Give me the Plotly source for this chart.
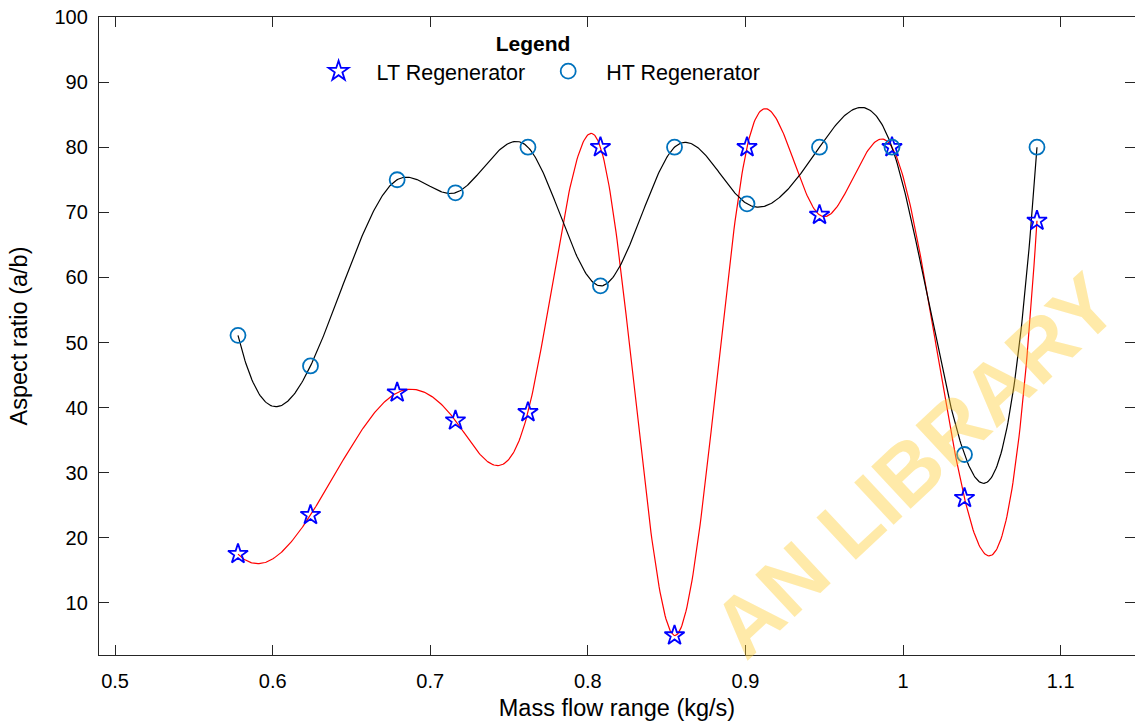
import numpy as np
import plotly.graph_objects as go

# ---- data ----
mass_flow = [0.578, 0.624, 0.679, 0.716, 0.762, 0.808, 0.855, 0.901, 0.947, 0.993, 1.039, 1.085]
lt_regen = [17.5, 23.5, 42.3, 38.0, 39.3, 80.0, 5.0, 80.0, 69.6, 80.0, 26.1, 68.7]
ht_regen = [51.1, 46.4, 75.0, 73.0, 80.0, 58.7, 80.0, 71.3, 80.0, 80.0, 32.8, 80.0]
x_ticks = [0.5, 0.6, 0.7, 0.8, 0.9, 1.0, 1.1]
y_ticks = [10, 20, 30, 40, 50, 60, 70, 80, 90, 100]


def spline_curve(x, y, n=800):
    """Not-a-knot cubic spline through the data points (MATLAB 'spline')."""
    x = np.asarray(x, float)
    y = np.asarray(y, float)
    k = len(x)
    h = np.diff(x)
    A = np.zeros((k, k))
    r = np.zeros(k)
    for i in range(1, k - 1):
        A[i, i - 1] = h[i - 1]
        A[i, i] = 2 * (h[i - 1] + h[i])
        A[i, i + 1] = h[i]
        r[i] = 6 * ((y[i + 1] - y[i]) / h[i] - (y[i] - y[i - 1]) / h[i - 1])
    A[0, 0], A[0, 1], A[0, 2] = h[1], -(h[0] + h[1]), h[0]
    A[-1, -3], A[-1, -2], A[-1, -1] = h[-1], -(h[-2] + h[-1]), h[-2]
    M = np.linalg.solve(A, r)
    xs = np.linspace(x[0], x[-1], n)
    idx = np.clip(np.searchsorted(x, xs) - 1, 0, k - 2)
    x0, x1 = x[idx], x[idx + 1]
    hh = x1 - x0
    ys = (M[idx] * (x1 - xs) ** 3 / (6 * hh) + M[idx + 1] * (xs - x0) ** 3 / (6 * hh)
          + (y[idx] / hh - M[idx] * hh / 6) * (x1 - xs)
          + (y[idx + 1] / hh - M[idx + 1] * hh / 6) * (xs - x0))
    return xs, ys


FONT = "Liberation Sans, Arial, sans-serif"
AX = "#262626"

fig = go.Figure()

lx, ly = spline_curve(mass_flow, lt_regen)
hx, hy = spline_curve(mass_flow, ht_regen)

fig.add_trace(go.Scatter(x=lx, y=ly, mode="lines", line=dict(color="#ff0000", width=1.2),
                         showlegend=False, hoverinfo="skip"))
fig.add_trace(go.Scatter(x=hx, y=hy, mode="lines", line=dict(color="#000000", width=1.2),
                         showlegend=False, hoverinfo="skip"))
fig.add_trace(go.Scatter(x=mass_flow, y=lt_regen, mode="markers", name="LT Regenerator",
                         marker=dict(symbol="star-open", size=15, color="#0000ff",
                                     line=dict(width=1.8, color="#0000ff"))))
fig.add_trace(go.Scatter(x=mass_flow, y=ht_regen, mode="markers", name="HT Regenerator",
                         marker=dict(symbol="circle-open", size=15, color="#0072bd",
                                     line=dict(width=1.8, color="#0072bd"))))
# carrier for the right-hand tick marks
fig.add_trace(go.Scatter(x=[None], y=[None], yaxis="y2", showlegend=False, hoverinfo="skip"))

# watermark seen on the reference
fig.add_annotation(text="AN LIBRARY", xref="paper", yref="paper", x=0.7876, y=0.2978,
                   xanchor="center", yanchor="middle",
                   showarrow=False, textangle=-43,
                   font=dict(family=FONT, size=84, color="rgba(255,205,50,0.42)", weight="bold"))

fig.update_layout(
    width=1135, height=723,
    margin=dict(l=99, r=0, t=17, b=68),
    paper_bgcolor="white", plot_bgcolor="white",
    font=dict(family=FONT, size=20, color=AX),
    xaxis=dict(range=[0.4898, 1.1472], tickvals=x_ticks, ticktext=[f"{v:g}" for v in x_ticks],
               ticks="inside", ticklen=10, tickwidth=1, tickcolor=AX, ticklabelstandoff=8,
               showline=True, linecolor=AX, linewidth=1.3, mirror="ticks",
               showgrid=False, zeroline=False,
               tickfont=dict(size=20, color="#000"),
               title=dict(text="Mass flow range (kg/s)", font=dict(size=23.5, color="#000"), standoff=8)),
    yaxis=dict(range=[2, 100], tickvals=y_ticks, ticks="inside", ticklen=10, tickwidth=1,
               tickcolor=AX, ticklabelstandoff=6, showline=True, linecolor=AX, linewidth=1.3,
               mirror=False, showgrid=False, zeroline=False,
               tickfont=dict(size=20, color="#000"),
               title=dict(text="Aspect ratio (a/b)", font=dict(size=23.5, color="#000"), standoff=20)),
    yaxis2=dict(range=[2, 100], tickvals=y_ticks, overlaying="y", side="right",
                ticks="inside", ticklen=10, tickwidth=1, tickcolor=AX,
                showticklabels=False, showline=False, showgrid=False, zeroline=False),
    legend=dict(orientation="h", x=0.419, xanchor="center", y=0.99, yanchor="top",
                bgcolor="rgba(0,0,0,0)", borderwidth=0, itemwidth=66,
                font=dict(size=21.5, color="#000"),
                title=dict(text="<b>Legend</b>", side="top center", font=dict(size=21, color="#000"))),
)

fig.write_html("out.html")
